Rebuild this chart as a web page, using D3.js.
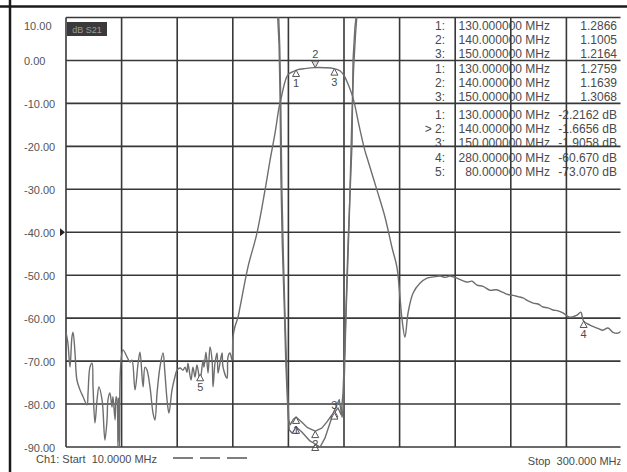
<!doctype html>
<html lang="en">
<head>
<meta charset="utf-8">
<title>dB S21 sweep</title>
<script src="https://d3js.org/d3.v7.min.js"></script>
<style>
  body { margin: 0; background: #fff; }
  svg { display: block; font-family: "Liberation Sans", Arial, sans-serif; }
  text { white-space: pre; }
</style>
</head>
<body>
<div id="chart"></div>
<script>
// y axis ticks (dB)
const yTicks = [10, 0, -10, -20, -30, -40, -50, -60, -70, -80, -90];

// S21 trace, MHz / dB
const s21Freq = [10.0, 11.0, 12.1, 13.1, 13.7, 14.7, 15.7, 17.3, 18.9, 21.0, 21.5, 22.5, 23.6, 24.1, 25.1,
  26.2, 27.2, 28.8, 29.3, 30.3, 31.4, 31.9, 32.9, 34.0, 34.5, 35.6, 36.1, 36.6, 37.1, 37.4, 37.9, 38.4,
  39.7, 41.8, 43.4, 44.4, 46.0, 47.6, 48.6, 50.2, 51.2, 52.2, 53.8, 55.4, 56.4, 57.5, 59.0, 60.6,
  61.6, 62.7, 63.7, 65.3, 66.8, 67.9, 69.5, 71.0, 72.1, 73.1, 73.6, 75.2, 76.2, 77.3, 78.3, 79.9,
  81.5, 82.0, 83.0, 84.1, 85.1, 86.2, 86.7, 87.7, 88.8, 89.3, 90.3, 91.4, 91.9, 94.0, 94.5, 95.5,
  96.6, 97.1, 98.1, 99.7, 100.8, 104.9, 109.6, 113.8, 116.4, 119.0, 121.1, 122.6, 124.2, 125.8,
  128.4, 130.5, 134.6, 139.9, 145.1, 149.8, 152.9, 155.0, 157.1, 159.2, 160.7, 162.3, 165.9, 167.0,
  172.2, 176.4, 180.0, 182.6, 184.2, 185.2, 186.8, 188.4, 191.0, 194.6, 198.3, 201.7, 205.1, 208.0,
  210.3, 213.9, 216.5, 219.2, 221.8, 224.4, 227.5, 231.1, 234.5, 237.9, 240.5, 243.1, 245.8, 248.4,
  251.0, 253.6, 256.2, 258.8, 261.4, 264.0, 266.6, 269.2, 272.9, 276.5, 278.5, 280.0, 283.3, 287.0,
  289.8, 292.7, 295.3, 297.9, 300.0];
const s21Db = [-63.3, -65.8, -71.4, -64.4, -63.3, -68.1, -74.4, -76.7, -78.3, -80.2, -77.4, -71.4, -70.5, -76.0, -84.4,
  -79.0, -76.0, -79.0, -81.4, -88.4, -83.7, -79.0, -77.4, -80.7, -78.3, -83.7, -78.3, -79.0, -90.0, -78.5, -90.0, -72.0,
  -67.4, -69.0, -70.2, -69.8, -76.7, -70.5, -67.9, -76.0, -71.4, -72.0, -76.0, -82.1, -83.7, -77.4, -71.4, -68.1,
  -72.8, -79.0, -82.1, -76.7, -73.7, -72.1, -71.6, -72.1, -71.4, -72.6, -70.5, -74.4, -71.4, -73.7, -70.9, -74.4,
  -69.8, -71.4, -67.9, -72.8, -66.7, -69.8, -76.0, -70.5, -68.1, -72.8, -70.5, -68.1, -71.4, -74.0, -69.0, -68.1,
  -69.8, -64.4, -62.0, -59.8, -57.4, -48.1, -40.2, -30.2, -23.3, -17.0, -11.0, -8.0, -5.0, -3.3,
  -2.6, -2.2, -1.9, -1.67, -1.7, -1.9, -2.4, -3.5, -5.5, -8.0, -10.5, -14.0, -21.0, -22.6,
  -30.2, -36.5, -43.5, -48.1, -55.1, -60.0, -64.4, -58.8, -54.2, -51.9, -50.7, -50.4, -50.2, -50.5,
  -50.2, -50.7, -51.2, -51.6, -51.4, -52.3, -52.6, -53.5, -53.4, -54.0, -54.5, -54.7, -55.0, -55.3,
  -56.0, -56.5, -56.7, -57.4, -57.6, -58.1, -58.3, -58.8, -59.8, -59.3, -58.6, -60.7, -61.6, -62.3,
  -62.8, -62.3, -63.3, -63.5, -62.8];

// reflection traces (two nearly overlapping)
const s11Freq = [120.2, 121.1, 121.6, 122.1, 122.8, 123.9, 124.6, 125.4, 126.0, 127.0, 128.5, 130.0, 132.9,
  136.0, 140.0, 143.4, 146.0, 148.6, 150.0, 151.9, 153.5, 154.5, 155.5, 157.1, 159.2, 159.7, 160.7, 161.8];
const s11Db = [12, 4.0, -7.0, -27.2, -42.6, -58.1, -69.8, -78.4, -83.7, -84.8, -83.6, -83.0, -84.2,
  -85.5, -86.3, -85.6, -84.2, -82.6, -82.0, -80.9, -82.5, -77.4, -65.8, -42.6, -19.3, 0.0, 7.7, 12];
const s22Freq = [120.8, 121.5, 122.0, 122.6, 123.4, 124.4, 125.2, 125.9, 126.4, 128.0, 130.0, 133.0, 137.0,
  140.0, 142.5, 145.0, 148.0, 150.0, 152.5, 154.0, 154.8, 156.0, 157.8, 159.0, 160.0, 161.0, 162.0];
const s22Db = [12, 3.0, -9.0, -30.0, -46.0, -62.0, -73.0, -80.5, -86.0, -86.8, -85.3, -86.5, -88.5,
  -89.3, -90.0, -88.0, -84.0, -81.5, -79.0, -83.0, -80.0, -60.0, -36.0, -15.0, -2.0, 6.0, 12];

// markers
const mkNum = [1, 2, 3, 4, 5];
const mkFreq = [130, 140, 150, 280, 80];
const mkS21 = [-2.2162, -1.6656, -1.9058, -60.670, -73.070];
const mkS11 = [-83.0, -86.3, -82.0];
const mkS22 = [-85.3, -89.3, -81.5];
const swrA = [1.2866, 1.1005, 1.2164];
const swrB = [1.2759, 1.1639, 1.3068];

const W = 627, H = 472;
const svg = d3.select('#chart').append('svg').attr('width', W).attr('height', H);

let x = d3.scaleLinear().domain([10, 300]).range([66, 622]);
let y = d3.scaleLinear().domain([10, -90]).range([17.5, 447]);

// the screen shot is cut off just right of the grid
svg.append('clipPath').attr('id', 'cut')
  .append('rect').attr('x', 0).attr('y', 0).attr('width', 620.5).attr('height', H);
svg.append('clipPath').attr('id', 'plot')
  .append('rect').attr('x', 66).attr('y', 17.5).attr('width', 554.5).attr('height', 429.5);

const txt = '#4a4a4a';
const trace = '#6e6e6e';

// frame lines
svg.append('line').attr('x1', 0).attr('x2', W).attr('y1', 6.5).attr('y2', 6.5)
  .attr('stroke', '#1a1a1a').attr('stroke-width', 2.5);
svg.append('line').attr('x1', 10).attr('x2', 10).attr('y1', 0).attr('y2', H)
  .attr('stroke', '#1a1a1a').attr('stroke-width', 2.5);

const cut = svg.append('g').attr('clip-path', 'url(#cut)');

// marker table
function row(yy, idx, f, val) {
  cut.append('text').attr('x', 445).attr('y', yy).attr('text-anchor', 'end').text(idx);
  cut.append('text').attr('x', 550).attr('y', yy).attr('text-anchor', 'end')
    .text(f.toFixed(6) + ' MHz');
  cut.append('text').attr('x', 617).attr('y', yy).attr('text-anchor', 'end').text(val);
}
swrA.forEach((v, i) => row(29.5 + i * 14.2, mkNum[i] + ':', mkFreq[i], v.toFixed(4)));
swrB.forEach((v, i) => row(72.5 + i * 14.2, mkNum[i] + ':', mkFreq[i], v.toFixed(4)));
mkS21.forEach((v, i) => row(118.5 + i * 14.4, (i === 1 ? '> ' : '') + mkNum[i] + ':', mkFreq[i],
  v.toPrecision(5) + ' dB'));
cut.selectAll('text').attr('font-size', 12).attr('fill', txt);

// grid
const grid = cut.append('g').attr('stroke', '#383838').attr('stroke-width', 1.6);
grid.selectAll('.h').data(yTicks).enter().append('line')
  .attr('x1', 66).attr('x2', 622).attr('y1', d => y(d)).attr('y2', d => y(d));
grid.selectAll('.v').data(d3.range(10, 301, 29)).enter().append('line')
  .attr('x1', d => x(d)).attr('x2', d => x(d)).attr('y1', 17.5).attr('y2', 447);

// y labels
svg.append('g').selectAll('text').data(yTicks).enter().append('text')
  .attr('x', 24).attr('y', d => y(d) + (d === 10 ? 12 : 5))
  .attr('font-size', 11).attr('fill', '#555')
  .text(d => d.toFixed(2));

// reference arrow at -40
svg.append('path')
  .attr('d', 'M' + 60 + ',' + (y(-40) - 4) + 'L' + 65 + ',' + y(-40) + 'L' + 60 + ',' + (y(-40) + 4) + 'Z')
  .attr('fill', '#222');

// dB S21 box
svg.append('rect').attr('x', 67).attr('y', 22).attr('width', 40).attr('height', 14).attr('fill', '#3a3a3a');
svg.append('text').attr('x', 87).attr('y', 32.5).attr('text-anchor', 'middle')
  .attr('font-size', 9).attr('fill', '#9a9a9a').text('dB S21');

// traces
let line = d3.line().x(d => x(d[0])).y(d => y(d[1]));
let smooth = d3.line().x(d => x(d[0])).y(d => y(d[1])).curve(d3.curveCatmullRom.alpha(0.5));
const traces = svg.append('g').attr('clip-path', 'url(#plot)')
  .attr('fill', 'none').attr('stroke', trace).attr('stroke-width', 1.4).attr('stroke-linejoin', 'round');
traces.append('path').attr('d', line(d3.zip(s11Freq, s11Db)));
traces.append('path').attr('d', line(d3.zip(s22Freq, s22Db)));
traces.append('path').attr('d', smooth(d3.zip(s21Freq, s21Db)));

// marker glyphs
function tri(px, py, down) {
  let s = down ? -1 : 1;
  return 'M' + px + ',' + py + 'L' + (px - 3.5) + ',' + (py + s * 6.5) + 'L' + (px + 3.5) + ',' + (py + s * 6.5) + 'Z';
}
const mk = svg.append('g').attr('font-size', 11).attr('fill', txt);
function marker(f, db, num, down, labelAbove) {
  let px = x(f), py = y(db);
  mk.append('path').attr('d', tri(px, py, down))
    .attr('fill', down ? '#ddd' : '#fff').attr('stroke', '#555').attr('stroke-width', 1);
  if (num === null) return;
  let ly = down ? py - 10 : (labelAbove ? py - 4 : py + 17);
  mk.append('text').attr('x', px).attr('y', ly).attr('text-anchor', 'middle').text(num);
}
mkS21.forEach((v, i) => marker(mkFreq[i], v, mkNum[i], i === 1, false));
mkS22.forEach((v, i) => marker(mkFreq[i], v, null, false, false));
mkS11.forEach((v, i) => marker(mkFreq[i], v, mkNum[i], false, i === 2));

// footer
svg.append('text').attr('x', 36).attr('y', 463).attr('font-size', 11).attr('fill', txt)
  .text('Ch1: Start  10.0000 MHz');
svg.append('line').attr('x1', 173).attr('x2', 248).attr('y1', 458).attr('y2', 458)
  .attr('stroke', '#555').attr('stroke-width', 1.5).attr('stroke-dasharray', '20,7');
cut.append('text').attr('x', 622).attr('y', 465).attr('text-anchor', 'end')
  .attr('font-size', 11).attr('fill', txt).text('Stop  300.000 MHz');
</script>
</body>
</html>
